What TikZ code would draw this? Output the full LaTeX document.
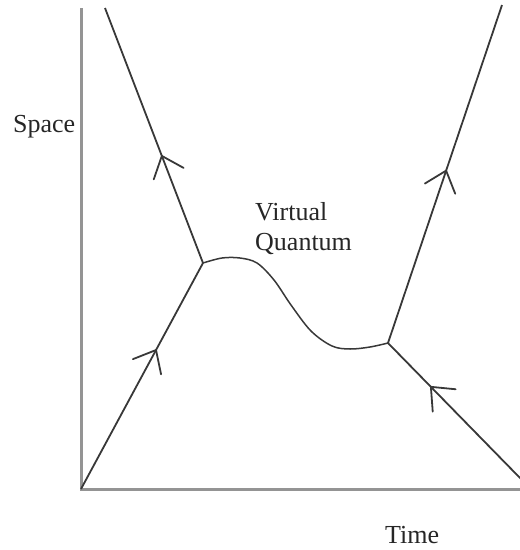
\documentclass[tikz,border=0pt]{standalone}
\usepackage{fontspec}
\setmainfont{Liberation Serif}
\usetikzlibrary{decorations.markings}
\begin{document}
\begin{tikzpicture}[x=1pt,y=-1pt,
  axis/.style={draw=black!42,line width=3pt},
  world/.style={draw=black!78,line width=1.8pt},
  virt/.style={draw=black!78,line width=1.5pt},
  chev/.style={postaction={decorate},decoration={markings,
     mark=at position #1 with {\draw[black!78,line width=1.8pt,line cap=round,line join=miter] (-19,16) -- (0,0) -- (-19,-16);}}},
  lbl/.style={font=\fontsize{26}{30}\selectfont,inner sep=0pt,anchor=base west,text=black!85}]
\useasboundingbox (0,0) rectangle (520,550);
% coordinates
\coordinate (O) at (81,489);
\coordinate (Ytop) at (81,8);
\coordinate (Xend) at (520,489);
\coordinate (A) at (203,263);
\coordinate (B) at (388,343);
\coordinate (LT) at (105,8);
\coordinate (RT) at (502,5);
\coordinate (RB) at (522,480);
% axes
\draw[axis] (Ytop) -- (O) -- (Xend);
% world lines
\draw[world,chev=0.615] (O) -- (A);
\draw[world,chev=0.42] (A) -- (LT);
\draw[world,chev=0.68] (RB) -- (B);
\draw[world,chev=0.51] (B) -- (RT);
% virtual quantum
\draw[virt] plot[smooth,tension=0.55] coordinates {(A) (222,258) (240,258) (257,263) (274,280) (291,305) (311,331) (332,346) (350,349) (370,347) (B)};
% labels
\node[lbl] (space) at (13,132) {Space};
\node[lbl] (vline) at (255,220) {Virtual};
\node[lbl] (qline) at (255,250) {Quantum};
\node[lbl] (time) at (385,543) {Time};
\end{tikzpicture}
\end{document}
